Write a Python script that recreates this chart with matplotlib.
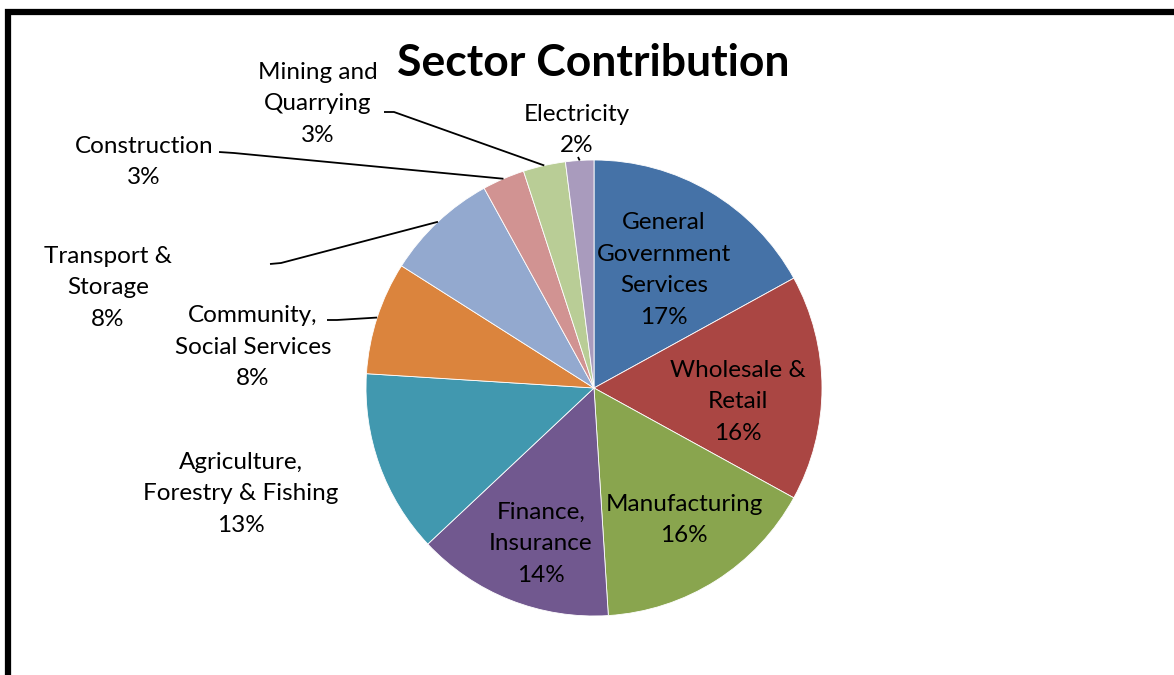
import matplotlib
matplotlib.use("Agg")
import matplotlib.pyplot as plt
import numpy as np

W, H = 1174, 675

sectors = ["General\nGovernment\nServices", "Wholesale &\nRetail", "Manufacturing",
           "Finance,\nInsurance", "Agriculture,\nForestry & Fishing", "Community,\nSocial Services",
           "Transport &\nStorage", "Construction", "Mining and\nQuarrying", "Electricity"]
shares = [17, 16, 16, 14, 13, 8, 8, 3, 3, 2]
colors = ["#4572A7", "#AA4643", "#89A54E", "#71588F", "#4198AF",
          "#DB843D", "#93A9CF", "#D19392", "#B9CD96", "#A99BBD"]

# label centres in pixels from top-left
label_xy = [(664, 270), (738, 402), (684, 520), (541, 544), (241, 494),
            (253, 347), (108, 288), (144, 162), (318, 104), (577, 130)]
# leader line stubs (start, elbow) for labels sitting outside the pie
leaders = {5: [(327, 320), (337, 320)],
           6: [(270, 264), (281, 263)],
           7: [(219, 152), (234, 153)],
           8: [(384, 112), (394, 112)],
           9: [(578, 157), (578, 157)]}

plt.rcParams["font.family"] = ["Lato", "DejaVu Sans"]

fig = plt.figure(figsize=(W / 100, H / 100), dpi=100)
ax = fig.add_axes([0, 0, 1, 1])

cx, cy, r = 594, H - 388, 228
wedges, _ = ax.pie(shares, colors=colors, startangle=90, counterclock=False,
                   center=(cx, cy), radius=r, frame=True,
                   wedgeprops=dict(edgecolor="white", linewidth=0.6))
ax.set_xlim(0, W)
ax.set_ylim(0, H)
ax.set_aspect("equal")
ax.axis("off")

for i, (name, v) in enumerate(zip(sectors, shares)):
    x, y = label_xy[i]
    ax.text(x, H - y, f"{name}\n{v}%", ha="center", va="center",
            fontsize=17.5, linespacing=1.62, color="black")
    if i in leaders:
        w = wedges[i]
        mid = np.deg2rad((w.theta1 + w.theta2) / 2)
        ex, ey = cx + r * np.cos(mid), cy + r * np.sin(mid)
        (x0, y0), (x1, y1) = leaders[i]
        ax.plot([x0, x1, ex], [H - y0, H - y1, ey], color="black", lw=1.3,
                solid_capstyle="butt")

ax.text(593, H - 63, "Sector Contribution", ha="center", va="center",
        fontsize=32, fontweight="bold", color="black")

# chart border, only left and top edges fall inside the image
ax.plot([7.5, 7.5, W + 20], [-20, H - 12, H - 12], color="black", lw=4.5,
        clip_on=False, solid_joinstyle="miter")

fig.savefig("out.png", dpi=100)
